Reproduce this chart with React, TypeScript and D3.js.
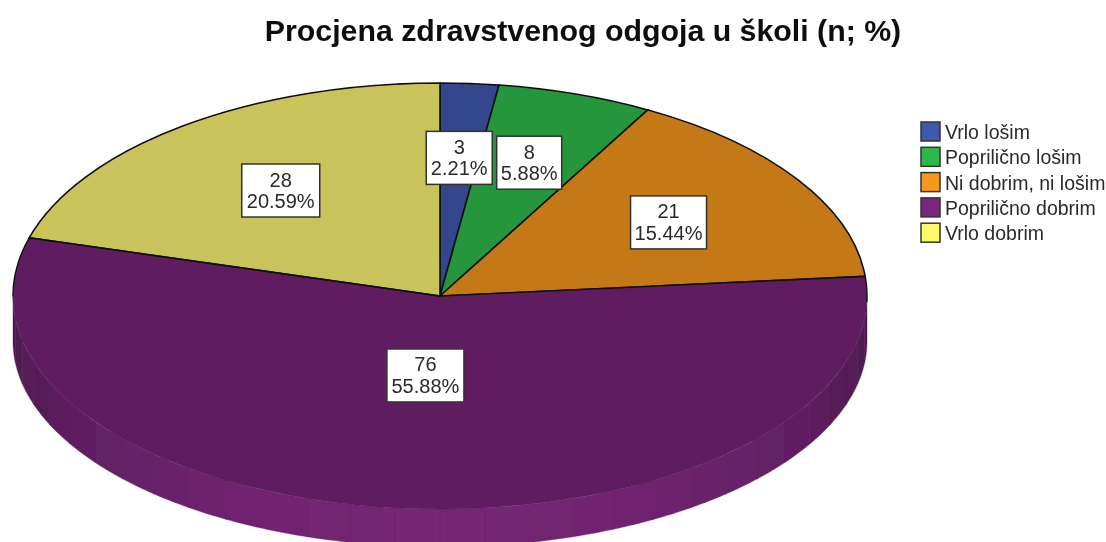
import React from "react";
import * as d3 from "d3";

const categories = ["Vrlo lošim", "Poprilično lošim", "Ni dobrim, ni lošim", "Poprilično dobrim", "Vrlo dobrim"];
const counts = [3, 8, 21, 76, 28];
const percentLabels = ["2.21%", "5.88%", "15.44%", "55.88%", "20.59%"];
const faceColors = ["#34478c", "#28963c", "#c57917", "#5f1f60", "#c8c35a"];
const legendColors = ["#3e58ac", "#2eb848", "#f7971e", "#7b267e", "#fdf86b"];
const sideLight = "#742574";
const sideDark = "#4d1a50";
const title = "Procjena zdravstvenog odgoja u školi (n; %)";

const W = 1106, H = 542;
const cx = 440, cy = 296, rx = 427, ry = 213;
const baseRy = 206, baseDrop = 45;
// label anchor: factor of the radius + pixel nudge, per slice
const labelRadial = [0.65, 0.65, 0.65, 0.37, 0.65];
const labelNudge = [[0, 0], [1, -2], [-4, 2], [0, 1], [8, 5]];
const boxW = [66, 65, 76, 77, 78];
const boxH = 53;
const font = "'Liberation Sans', Arial, sans-serif";

const px = (a: number, r = 1) => cx + rx * r * Math.sin(a);
const py = (a: number, r = 1) => cy - ry * r * Math.cos(a);
const by = (a: number) => cy + baseDrop - baseRy * Math.cos(a);

export default function App() {
  const pie = d3.pie<number>().sort(null)(counts);
  const arc = d3.arc<d3.PieArcDatum<number>>().innerRadius(0).outerRadius(rx);
  const steps = d3.range(Math.PI / 2, (3 * Math.PI) / 2, Math.PI / 30);
  const shade = d3.scaleLinear<string>().domain([0, 1]).range([sideDark, sideLight]).interpolate(d3.interpolateRgb);
  const line = d3.line();
  const wallPath = (a0: number, a1: number) => {
    const n = 8;
    const angs = d3.range(n + 1).map((i) => a0 + ((a1 - a0) * i) / n);
    const top = angs.map((a) => [px(a), py(a)] as [number, number]);
    const bot = angs.slice().reverse().map((a) => [px(a), by(a)] as [number, number]);
    return line([...top, ...bot]) + "Z";
  };
  const arcLine = (a0: number, a1: number) =>
    line(d3.range(41).map((i) => {
      const a = a0 + ((a1 - a0) * i) / 40;
      return [px(a), py(a)] as [number, number];
    })) || "";
  const s = pie[3].startAngle, e = pie[3].endAngle;
  const p0 = [px(s), py(s)];
  const p1 = [px(e), py(e)];
  return (
    <svg width={W} height={H} viewBox={`0 0 ${W} ${H}`} style={{ position: "absolute", left: 0, top: 0, background: "#fff" }}>
      <defs>
        <filter id="soft" x="-2%" y="-2%" width="104%" height="104%">
          <feGaussianBlur stdDeviation="0.4" />
        </filter>
      </defs>
      <g filter="url(#soft)">
        <text x={583} y={41} textAnchor="middle" fontFamily={font} fontWeight="bold" fontSize={30.3} fill="#111">{title}</text>
        {steps.map((a, i) => {
          const mid = a + Math.PI / 60;
          const t = Math.pow(Math.abs(Math.sin(mid - Math.PI / 2)), 1.3);
          const c = shade(t);
          return <path key={i} d={wallPath(a, a + Math.PI / 30 + 0.002)} fill={c} stroke={c} strokeWidth={0.4} />;
        })}
        <g transform={`translate(${cx},${cy}) scale(1,${ry / rx})`}>
          {pie.map((d, i) => (
            <path key={i} d={arc(d) || ""} fill={faceColors[i]} stroke="#111" strokeWidth={i === 3 ? 0 : 1.6} vectorEffect="non-scaling-stroke" />
          ))}
        </g>
        <path d={`M${p0[0]},${p0[1]}L${cx},${cy}L${p1[0]},${p1[1]}`} fill="none" stroke="#111" strokeWidth={1.6} />
        <path d={arcLine(s, s + 0.12)} fill="none" stroke="#111" strokeWidth={1.4} />
        <path d={arcLine(e - 0.28, e)} fill="none" stroke="#111" strokeWidth={1.4} />
        <path d={arcLine(s + 0.12, e - 0.28)} fill="none" stroke="#3a0f3e" strokeWidth={0.7} opacity={0.45} />
        {pie.map((d, i) => {
          const a = (d.startAngle + d.endAngle) / 2;
          const x = px(a, labelRadial[i]) + labelNudge[i][0];
          const y = py(a, labelRadial[i]) + labelNudge[i][1];
          return (
            <g key={i}>
              <rect x={x - boxW[i] / 2} y={y - boxH / 2} width={boxW[i]} height={boxH} fill="#fff" stroke="#333" strokeWidth={1.5} />
              <text x={x} y={y - 4} textAnchor="middle" fontFamily={font} fontSize={20} fill="#2a2a2a">{counts[i]}</text>
              <text x={x} y={y + 17.5} textAnchor="middle" fontFamily={font} fontSize={20} fill="#2a2a2a">{percentLabels[i]}</text>
            </g>
          );
        })}
        {categories.map((c, i) => (
          <g key={c} transform={`translate(921,${122 + i * 25.3})`}>
            <rect x={0} y={0} width={19} height={19} fill={legendColors[i]} stroke="#333" strokeWidth={1.5} />
            <text x={24} y={17} fontFamily={font} fontSize={19.5} fill="#2a2a2a">{c}</text>
          </g>
        ))}
      </g>
    </svg>
  );
}
